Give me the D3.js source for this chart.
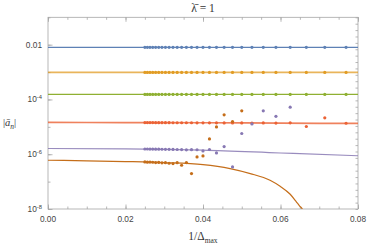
<!DOCTYPE html>
<html>
<head>
<style>
  body { margin: 0; background: #fff; }
</style>
</head>
<body>
<svg id="chart" width="368" height="245"></svg>
<script src="https://d3js.org/d3.v7.min.js"></script>
<script>
// x of every dot is 1/deltaMax
const deltaMax = [40, 39, 38, 37, 36, 35, 34, 33, 32, 31, 30, 29, 28, 27,
                  26, 25, 24, 23, 22, 21, 20, 19, 18, 17, 16, 15, 14, 13]

// dot values, same order as deltaMax (null = no point)
const blueDots = [8.0e-3, 8.0e-3, 8.0e-3, 8.0e-3, 8.0e-3, 8.0e-3, 8.0e-3, 8.0e-3, 8.0e-3, 8.0e-3,
                  8.0e-3, 8.0e-3, 8.0e-3, 8.0e-3, 8.0e-3, 8.0e-3, 8.0e-3, 8.0e-3, 8.0e-3, 8.0e-3,
                  8.0e-3, 8.0e-3, 8.0e-3, 8.0e-3, 8.0e-3, 8.0e-3, 8.0e-3, 8.0e-3]
const orangeDots = [9.7e-4, 9.7e-4, 9.7e-4, 9.7e-4, 9.7e-4, 9.7e-4, 9.7e-4, 9.7e-4, 9.7e-4, 9.7e-4,
                    9.7e-4, 9.7e-4, 9.7e-4, 9.7e-4, 9.7e-4, 9.7e-4, 9.7e-4, 9.7e-4, 9.7e-4, 9.7e-4,
                    9.7e-4, 9.7e-4, 9.7e-4, 9.7e-4, 9.7e-4, 9.7e-4, 9.7e-4, 9.7e-4]
const greenDots = [1.53e-4, 1.53e-4, 1.53e-4, 1.53e-4, 1.53e-4, 1.53e-4, 1.53e-4, 1.53e-4, 1.53e-4, 1.53e-4,
                   1.53e-4, 1.53e-4, 1.53e-4, 1.53e-4, 1.53e-4, 1.53e-4, 1.53e-4, 1.53e-4, 1.53e-4, 1.53e-4,
                   1.53e-4, 1.53e-4, 1.53e-4, 1.53e-4, 1.53e-4, 1.53e-4, 1.53e-4, 1.53e-4]
const redDots = [1.43e-5, 1.43e-5, 1.43e-5, 1.43e-5, 1.42e-5, 1.42e-5, 1.42e-5, 1.42e-5, 1.42e-5, 1.41e-5,
                 1.41e-5, 1.41e-5, 1.41e-5, 1.41e-5, 1.40e-5, 1.40e-5, 1.40e-5, 1.40e-5, 1.39e-5, 1.39e-5,
                 1.39e-5, 1.38e-5, 1.39e-5, 1.37e-5, 1.40e-5, 1.03e-5, 2.13e-5, 1.35e-5]
const purpleDots = [1.55e-6, 1.55e-6, 1.54e-6, 1.54e-6, 1.53e-6, 1.53e-6, 1.52e-6, 1.51e-6, 1.51e-6, 1.50e-6,
                    1.49e-6, 1.48e-6, 1.45e-6, 1.47e-6, 1.46e-6, 1.32e-6, 1.49e-6, 1.12e-6, 1.91e-6, 3.43e-7,
                    5.71e-6, 1.28e-5, 3.84e-5, 2.42e-5, 5.23e-5, null, null, null]
const brownDots = [5.23e-7, 5.14e-7, 5.19e-7, 5.10e-7, 4.97e-7, 5.01e-7, 4.84e-7, 4.93e-7, 4.69e-7, 4.57e-7,
                   4.93e-7, 3.96e-7, 4.97e-7, 1.97e-7, 7.96e-7, 8.67e-7, 3.63e-6, 9.97e-6, 2.74e-5, 1.57e-5,
                   3.84e-5, null, null, null, null, null, null, null]

// fitted curves
const lineX = [0, 0.02, 0.04, 0.06, 0.08]
const blueLine = [8.0e-3, 8.0e-3, 8.0e-3, 8.0e-3, 8.0e-3]
const orangeLine = [9.7e-4, 9.7e-4, 9.7e-4, 9.7e-4, 9.7e-4]
const greenLine = [1.53e-4, 1.53e-4, 1.53e-4, 1.53e-4, 1.53e-4]
const redLine = [1.45e-5, 1.43e-5, 1.41e-5, 1.37e-5, 1.33e-5]
const purpleLine = [1.62e-6, 1.58e-6, 1.41e-6, 1.11e-6, 8.8e-7]
const brownCurveX = [0, 0.01, 0.02, 0.03, 0.04, 0.047, 0.0522, 0.0573, 0.0599, 0.0625, 0.0640, 0.0650, 0.0656, 0.0662]
const brownCurve = [6.03e-7, 5.74e-7, 5.41e-7, 4.97e-7, 4.20e-7, 3.00e-7, 1.97e-7, 1.12e-7, 6.76e-8, 3.45e-8, 1.91e-8, 1.25e-8, 1.0e-8, 4e-9]

const xTicks = [0, 0.02, 0.04, 0.06, 0.08]
const xTickLabels = ['0.00', '0.02', '0.04', '0.06', '0.08']
const yTicks = [1e-8, 1e-6, 1e-4, 1e-2]
const yTickLabels = [['10', '-8'], ['10', '-6'], ['10', '-4'], ['0.01', '']]

const colors = {
  blue: '#5e81b5', orange: '#e19c24', green: '#8fb032',
  red: '#eb6235', purple: '#8778b3', brown: '#c56e1a'
}

const mLeft = 48, mRight = 358, mTop = 17.3, mBottom = 209

let svg = d3.select('#chart')
let x = d3.scaleLinear().domain([0, 0.08]).range([mLeft, mRight])
let y = d3.scaleLog().domain([1e-8, 1e-1]).range([mBottom, mTop])

svg.append('defs').append('clipPath').attr('id', 'plot')
  .append('rect').attr('x', mLeft).attr('y', mTop)
  .attr('width', mRight - mLeft).attr('height', mBottom - mTop)

// frame ticks
const frame = '#a6a6a6'
let minorX = d3.range(0, 0.0801, 0.005)
let decades = d3.range(-8, -0.5, 1).map(e => Math.pow(10, e))
let rightTicks = d3.range(0, 31).map(i => Math.pow(10, -8 + i * 7 / 30))

function styleAxis(g) {
  g.select('.domain').remove()
  g.selectAll('line').attr('stroke', frame).attr('stroke-width', 0.8)
  g.selectAll('text').remove()
}

svg.append('g').attr('transform', 'translate(0,' + mBottom + ')')
  .call(d3.axisBottom(x).tickValues(minorX).tickSize(-2.5)).call(styleAxis)
svg.append('g').attr('transform', 'translate(0,' + mBottom + ')')
  .call(d3.axisBottom(x).tickValues(xTicks).tickSize(-4.5)).call(styleAxis)
svg.append('g').attr('transform', 'translate(0,' + mTop + ')')
  .call(d3.axisTop(x).tickValues(minorX).tickSize(-2.5)).call(styleAxis)
svg.append('g').attr('transform', 'translate(0,' + mTop + ')')
  .call(d3.axisTop(x).tickValues(xTicks).tickSize(-4.5)).call(styleAxis)
svg.append('g').attr('transform', 'translate(' + mLeft + ',0)')
  .call(d3.axisLeft(y).tickValues(decades).tickSize(-2.5)).call(styleAxis)
svg.append('g').attr('transform', 'translate(' + mLeft + ',0)')
  .call(d3.axisLeft(y).tickValues(yTicks).tickSize(-4.5)).call(styleAxis)
svg.append('g').attr('transform', 'translate(' + mRight + ',0)')
  .call(d3.axisRight(y).tickValues(rightTicks).tickSize(-2.5)).call(styleAxis)

svg.append('rect')
  .attr('x', mLeft).attr('y', mTop)
  .attr('width', mRight - mLeft).attr('height', mBottom - mTop)
  .attr('fill', 'none').attr('stroke', frame).attr('stroke-width', 0.8)

// tick labels
const labelFont = '"Liberation Sans", Arial, sans-serif'
svg.append('g').selectAll('text')
  .data(xTicks)
  .enter().append('text')
    .attr('x', d => x(d))
    .attr('y', mBottom + 13)
    .attr('text-anchor', 'middle')
    .attr('font-family', labelFont)
    .attr('font-size', 8.3)
    .attr('fill', '#444')
    .text((d, i) => xTickLabels[i])

let yl = svg.append('g').selectAll('text')
  .data(yTicks)
  .enter().append('text')
    .attr('x', mLeft - 6)
    .attr('y', d => y(d) + 3)
    .attr('text-anchor', 'end')
    .attr('font-family', labelFont)
    .attr('font-size', 8.3)
    .attr('fill', '#444')
yl.append('tspan').text((d, i) => yTickLabels[i][0])
yl.append('tspan').attr('dy', -3.5).attr('font-size', 5.8)
  .text((d, i) => yTickLabels[i][1])

// curves
let line = d3.line()
  .defined(d => d[1] != null)
  .x(d => x(d[0])).y(d => y(d[1]))
  .curve(d3.curveMonotoneX)

let plot = svg.append('g').attr('clip-path', 'url(#plot)')

let curves = [
  { vals: blueLine, xs: lineX, color: colors.blue, w: 1.1, op: 1 },
  { vals: orangeLine, xs: lineX, color: colors.orange, w: 1.8, op: 0.75 },
  { vals: greenLine, xs: lineX, color: colors.green, w: 1.2, op: 1 },
  { vals: redLine, xs: lineX, color: colors.red, w: 1.7, op: 0.8 },
  { vals: purpleLine, xs: lineX, color: colors.purple, w: 1.2, op: 0.85 },
  { vals: brownCurve, xs: brownCurveX, color: colors.brown, w: 1.2, op: 1 }
]

curves.forEach(c => {
  plot.append('path')
    .datum(c.xs.map((v, i) => [v, c.vals[i]]))
    .attr('fill', 'none')
    .attr('stroke', c.color)
    .attr('stroke-width', c.w)
    .attr('stroke-opacity', c.op)
    .attr('d', line)
})

// dots
let series = [
  [blueDots, colors.blue], [orangeDots, colors.orange], [greenDots, colors.green],
  [redDots, colors.red], [purpleDots, colors.purple], [brownDots, colors.brown]
]

series.forEach(s => {
  let pts = deltaMax.map((d, i) => [1 / d, s[0][i]]).filter(p => p[1] != null)
  plot.append('g').selectAll('circle')
    .data(pts)
    .enter().append('circle')
      .attr('cx', d => x(d[0]))
      .attr('cy', d => y(d[1]))
      .attr('r', 1.6)
      .attr('fill', s[1])
})

// titles
const serif = '"Liberation Serif", "DejaVu Serif", serif'
svg.append('text')
  .attr('x', (mLeft + mRight) / 2)
  .attr('y', 12)
  .attr('text-anchor', 'middle')
  .attr('font-family', serif)
  .attr('font-size', 11.5)
  .attr('fill', '#333')
  .text('\u03bb\u0304 = 1')

let xl = svg.append('text')
  .attr('x', (mLeft + mRight) / 2)
  .attr('y', 240)
  .attr('text-anchor', 'middle')
  .attr('font-family', serif)
  .attr('font-size', 11.5)
  .attr('fill', '#333')
xl.append('tspan').text('1/\u0394')
xl.append('tspan').attr('dy', 2.5).attr('font-size', 7.5).text('max')

let ylab = svg.append('text')
  .attr('x', 3)
  .attr('y', 126)
  .attr('font-family', serif)
  .attr('font-size', 10.5)
  .attr('fill', '#333')
ylab.append('tspan').text('|')
ylab.append('tspan').attr('font-style', 'italic').text('\u0101')
ylab.append('tspan').attr('font-style', 'italic').attr('font-size', 7.5).attr('dy', 2.5).text('n')
ylab.append('tspan').attr('dy', -2.5).text('|')
</script>
</body>
</html>
